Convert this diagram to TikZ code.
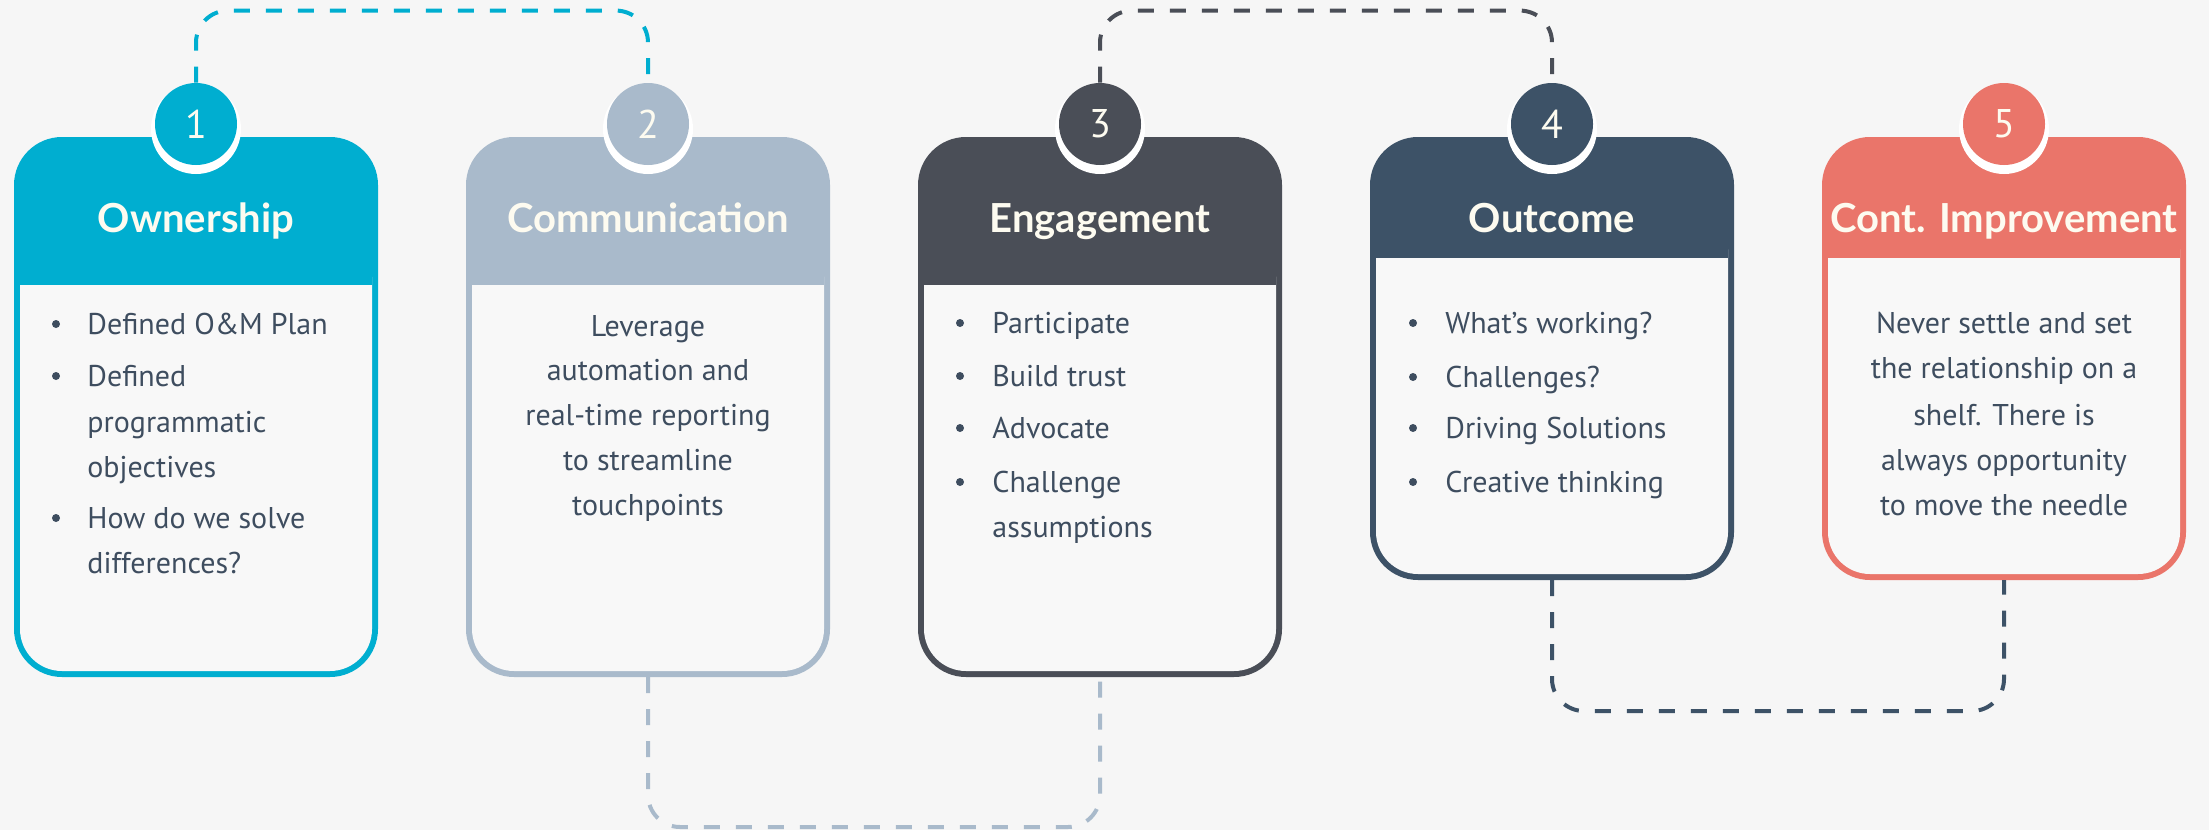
\documentclass[tikz,border=0pt]{standalone}
\usepackage{fontspec}
\setmainfont{PT Sans}
\newfontfamily\headfont{Lato}
\definecolor{bg}{HTML}{F6F6F6}
\definecolor{paper}{HTML}{F8F8F8}
\definecolor{ink}{HTML}{3E4D5F}
\definecolor{cream}{HTML}{FDFBF0}
\definecolor{cown}{HTML}{00AED0}
\definecolor{ccom}{HTML}{A9BACB}
\definecolor{ceng}{HTML}{4A4E57}
\definecolor{cout}{HTML}{3D5267}
\definecolor{cimp}{HTML}{EA756A}
\begin{document}
\begin{tikzpicture}[x=.5pt, y=-.5pt,
    numdot/.style={circle, minimum size=41pt, inner sep=0pt, text=cream, font=\fontsize{20}{24}\selectfont},
    head/.style={text=cream, inner sep=0pt, text height=14pt, text depth=0pt, font=\headfont\bfseries\fontsize{20}{24}\selectfont},
    txt/.style={text=ink, inner sep=0pt, text height=10.5pt, text depth=0pt, font=\fontsize{15}{18}\selectfont},
    bul/.style={circle, fill=ink, inner sep=0pt, minimum size=4pt},
    link/.style={dashed, dash pattern=on 8pt off 8pt, line width=2pt, rounded corners=16pt}]
\fill[bg] (0,0) rectangle (2209,830);
\useasboundingbox (0,0) rectangle (2209,830);
\foreach \x/\c/\b/\h [count=\i] in {14/cown/677/285, 466/ccom/677/285, 918/ceng/677/285, 1370/cout/580/258, 1822/cimp/580/258}
{
    \fill[\c, rounded corners=24pt] (\x,137) rectangle (\x+364,\b);
    \fill[paper, rounded corners=21pt] (\x+6,\h-50) rectangle (\x+358,\b-6);
    \fill[\c] (\x+6,\h-60) rectangle (\x+358,\h);
    \coordinate (b\i) at (\x+182,\b);
}
\foreach \x/\c [count=\i] in {196/cown, 648/ccom, 1100/ceng, 1552/cout, 2004/cimp}
{
    \fill[white] (\x,129) circle (22.5pt);
    \node[numdot, fill=\c] (n\i) at (\x,124) {\i};
}
\node[head] (h1) at (196,218) {Ownership};
\node[head] (h2) at (648,218) {Communication};
\node[head] (h3) at (1100,218) {Engagement};
\node[head] (h4) at (1552,218) {Outcome};
\node[head] (h5) at (2004,218) {Cont. Improvement};

\draw[link, cown] (n1.north) -- ++(0,-72) -| (n2.north);
\draw[link, ccom] (b2) -- ++(0,150) -| (b3);
\draw[link, ceng] (n3.north) -- ++(0,-72) -| (n4.north);
\draw[link, cout] (b4) -- ++(0,131) -| (b5);

\foreach \y [count=\k] in {324,376,518}
    \node[bul] (a\k) at (56,\y) {};
\foreach \y/\t [count=\k] in {324/Defined O\&M Plan, 376/Defined, 422/programmatic, 467/objectives, 518/How do we solve, 563/differences?}
    \node[txt, anchor=west] (p\k) at (87,\y) {\t};

\foreach \y/\t [count=\k] in {326/Leverage, 370/automation and, 415/real-time reporting, 460/to streamline, 505/touchpoints}
    \node[txt] (q\k) at (648,\y) {\t};

\foreach \y [count=\k] in {323,376,428,482}
    \node[bul] (c\k) at (960,\y) {};
\foreach \y/\t [count=\k] in {323/Participate, 376/Build trust, 428/Advocate, 482/Challenge, 527/assumptions}
    \node[txt, anchor=west] (r\k) at (992,\y) {\t};

\foreach \y/\t [count=\k] in {323/What’s working?, 377/Challenges?, 428/Driving Solutions, 482/Creative thinking}
{
    \node[bul] (e\k) at (1413,\y) {};
    \node[txt, anchor=west] (s\k) at (1445,\y) {\t};
}

\foreach \y/\t [count=\k] in {323/Never settle and set, 368/the relationship on a, 415/shelf. There is, 460/always opportunity, 505/to move the needle}
    \node[txt] (u\k) at (2004,\y) {\t};
\end{tikzpicture}
\end{document}
